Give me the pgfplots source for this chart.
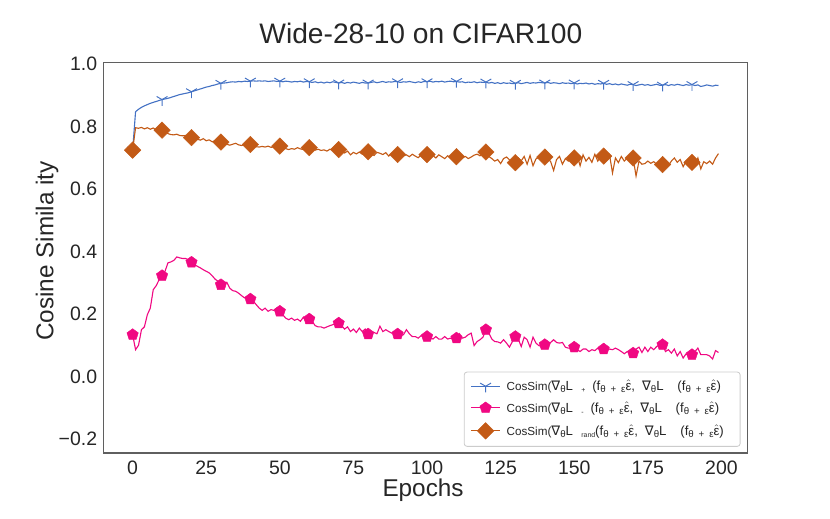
\documentclass[border=0pt]{standalone}
\usepackage{fontspec}
\setmainfont{Liberation Sans}
\newfontfamily\djv{DejaVu Sans}
\usepackage{pgfplots}
\pgfplotsset{compat=1.18}
\usepackage{pgfplotstable}

\definecolor{cblue}{RGB}{68,114,196}
\definecolor{cpink}{RGB}{240,8,130}
\definecolor{corange}{RGB}{195,90,22}
\definecolor{spine}{RGB}{95,95,95}
\definecolor{txt}{RGB}{38,38,38}
\definecolor{legedge}{RGB}{204,204,204}

\newcommand{\nb}{{\djv ∇}}
\newcommand{\mfs}{\fontsize{9.5}{11}\selectfont}
\newcommand{\sbs}[1]{\raisebox{-1.6pt}{\fontsize{7}{8}\selectfont #1}}
\newcommand{\tsb}[1]{\raisebox{-1.6pt}{\fontsize{5}{6}\selectfont #1}}
\newcommand{\eh}{\(\hat{\mbox{ε}}\)}
\newcommand{\fe}{(f\sbs{θ\hspace{3.5pt}+\hspace{3.5pt}ε}\eh}
\newcommand{\lgt}[2]{CosSim({\mfs\nb\sbs{θ}L\hspace{6pt}\tsb{#1}\fe,\hspace{5pt}\nb\sbs{θ}L\hspace{10pt}\fe)}\rule{#2}{0pt}}

\pgfplotstableread{
ep plus minus rand
0 0.725 0.134 0.725
1 0.848 0.086 0.797
2 0.856 0.100 0.795
3 0.862 0.150 0.798
4 0.867 0.159 0.793
5 0.871 0.198 0.797
6 0.875 0.219 0.792
7 0.878 0.278 0.796
8 0.881 0.291 0.790
9 0.884 0.310 0.795
10 0.887 0.323 0.789
11 0.889 0.337 0.784
12 0.891 0.364 0.778
13 0.894 0.367 0.775
14 0.897 0.372 0.774
15 0.900 0.383 0.776
16 0.903 0.380 0.772
17 0.905 0.378 0.771
18 0.907 0.378 0.772
19 0.909 0.374 0.768
20 0.912 0.366 0.765
21 0.915 0.358 0.766
22 0.918 0.353 0.760
23 0.921 0.348 0.757
24 0.924 0.342 0.762
25 0.927 0.337 0.755
26 0.929 0.332 0.758
27 0.932 0.323 0.752
28 0.934 0.312 0.755
29 0.937 0.305 0.750
30 0.939 0.294 0.751
31 0.940 0.299 0.748
32 0.941 0.302 0.744
33 0.943 0.283 0.741
34 0.944 0.275 0.744
35 0.943 0.273 0.747
36 0.945 0.267 0.742
37 0.944 0.259 0.740
38 0.946 0.252 0.743
39 0.945 0.254 0.739
40 0.946 0.248 0.743
41 0.947 0.241 0.739
42 0.946 0.230 0.736
43 0.947 0.219 0.735
44 0.946 0.212 0.737
45 0.947 0.219 0.735
46 0.945 0.209 0.738
47 0.946 0.214 0.734
48 0.947 0.212 0.736
49 0.945 0.219 0.735
50 0.946 0.209 0.738
51 0.944 0.198 0.733
52 0.946 0.187 0.730
53 0.945 0.182 0.727
54 0.943 0.187 0.730
55 0.945 0.180 0.728
56 0.944 0.184 0.733
57 0.946 0.177 0.729
58 0.943 0.190 0.727
59 0.945 0.173 0.731
60 0.944 0.184 0.733
61 0.942 0.177 0.729
62 0.944 0.163 0.725
63 0.941 0.159 0.728
64 0.943 0.159 0.724
65 0.940 0.155 0.726
66 0.943 0.159 0.722
67 0.941 0.163 0.728
68 0.944 0.166 0.725
69 0.942 0.169 0.722
70 0.940 0.171 0.727
71 0.942 0.163 0.722
72 0.939 0.152 0.716
73 0.942 0.159 0.722
74 0.940 0.144 0.710
75 0.943 0.152 0.718
76 0.941 0.141 0.713
77 0.939 0.155 0.719
78 0.942 0.144 0.712
79 0.940 0.152 0.717
80 0.940 0.136 0.720
81 0.942 0.144 0.712
82 0.944 0.141 0.708
83 0.941 0.137 0.718
84 0.943 0.161 0.715
85 0.945 0.144 0.711
86 0.942 0.150 0.717
87 0.944 0.144 0.706
88 0.943 0.139 0.715
89 0.945 0.144 0.712
90 0.944 0.136 0.711
91 0.942 0.131 0.713
92 0.944 0.134 0.707
93 0.943 0.150 0.710
94 0.945 0.137 0.704
95 0.943 0.128 0.712
96 0.941 0.128 0.706
97 0.944 0.123 0.701
98 0.942 0.131 0.709
99 0.945 0.123 0.705
100 0.944 0.128 0.711
101 0.946 0.126 0.703
102 0.943 0.120 0.708
103 0.945 0.128 0.700
104 0.944 0.120 0.710
105 0.946 0.120 0.704
106 0.943 0.128 0.698
107 0.945 0.120 0.707
108 0.946 0.123 0.701
109 0.944 0.120 0.706
110 0.945 0.123 0.704
111 0.943 0.137 0.708
112 0.944 0.123 0.700
113 0.941 0.126 0.705
114 0.943 0.134 0.698
115 0.942 0.139 0.703
116 0.944 0.099 0.709
117 0.941 0.112 0.712
118 0.943 0.118 0.707
119 0.942 0.126 0.714
120 0.943 0.150 0.719
121 0.940 0.139 0.705
122 0.942 0.120 0.698
123 0.939 0.112 0.690
124 0.941 0.111 0.695
125 0.938 0.107 0.682
126 0.941 0.118 0.698
127 0.939 0.107 0.703
128 0.940 0.094 0.694
129 0.938 0.112 0.690
130 0.939 0.128 0.685
131 0.941 0.120 0.700
132 0.938 0.096 0.691
133 0.940 0.126 0.705
134 0.942 0.118 0.680
135 0.939 0.094 0.708
136 0.941 0.126 0.675
137 0.940 0.107 0.697
138 0.942 0.099 0.702
139 0.941 0.096 0.690
140 0.940 0.102 0.703
141 0.942 0.105 0.700
142 0.939 0.109 0.688
143 0.941 0.118 0.660
144 0.940 0.109 0.695
145 0.938 0.107 0.705
146 0.941 0.109 0.680
147 0.939 0.094 0.698
148 0.940 0.091 0.690
149 0.938 0.091 0.703
150 0.940 0.094 0.700
151 0.937 0.086 0.708
152 0.939 0.080 0.675
153 0.938 0.088 0.710
154 0.940 0.088 0.690
155 0.937 0.080 0.702
156 0.939 0.086 0.686
157 0.936 0.083 0.712
158 0.938 0.091 0.690
159 0.937 0.083 0.705
160 0.939 0.088 0.706
161 0.936 0.083 0.693
162 0.938 0.088 0.710
163 0.935 0.086 0.652
164 0.937 0.091 0.700
165 0.934 0.086 0.685
166 0.937 0.080 0.705
167 0.935 0.073 0.690
168 0.933 0.080 0.700
169 0.936 0.077 0.692
170 0.935 0.075 0.700
171 0.932 0.088 0.642
172 0.934 0.094 0.690
173 0.936 0.077 0.680
174 0.933 0.094 0.682
175 0.935 0.080 0.690
176 0.932 0.094 0.683
177 0.934 0.086 0.688
178 0.936 0.096 0.680
179 0.933 0.102 0.685
180 0.933 0.102 0.679
181 0.935 0.080 0.684
182 0.932 0.086 0.676
183 0.935 0.075 0.690
184 0.933 0.088 0.700
185 0.936 0.066 0.686
186 0.934 0.080 0.695
187 0.932 0.059 0.672
188 0.935 0.073 0.690
189 0.933 0.064 0.680
190 0.935 0.070 0.686
191 0.932 0.080 0.678
192 0.934 0.091 0.700
193 0.929 0.070 0.665
194 0.931 0.070 0.688
195 0.934 0.070 0.682
196 0.932 0.066 0.690
197 0.930 0.056 0.680
198 0.933 0.083 0.700
199 0.932 0.077 0.714
}\data

\begin{document}
\begin{tikzpicture}
\begin{axis}[
  at={(74.4pt,47.5pt)}, anchor=south west,
  scale only axis, width=464pt, height=281pt,
  xmin=-9.95, xmax=208.95, ymin=-0.245, ymax=1.005,
  xtick={0,25,50,75,100,125,150,175,200},
  xticklabels={0,25,50,75,100,125,150,175,200},
  ytick={-0.2,0,0.2,0.4,0.6,0.8,1.0},
  yticklabels={−0.2,0.0,0.2,0.4,0.6,0.8,1.0},
  major tick length=0pt,
  tick label style={font=\fontsize{14}{16}\selectfont, text=txt},
  xticklabel style={anchor=base, yshift=-15.8pt},
  yticklabel style={anchor=east, inner sep=0pt, xshift=-4.3pt},
  axis line style={spine, line width=0.9pt},
  title={Wide-28-10 on CIFAR100},
  title style={font=\fontsize{20.3}{24}\selectfont, text=txt, at={(0.5,1)}, anchor=base, yshift=7.7pt, xshift=-3.4pt, inner sep=0pt},
  xlabel={Epochs},
  ylabel={Cosine Simila ity},
  xlabel style={font=\fontsize{17.5}{20}\selectfont, text=txt, at={(0.5,0)}, anchor=base, yshift=-31.5pt, xshift=-1.8pt, inner sep=0pt},
  ylabel style={font=\fontsize{17.5}{20}\selectfont, text=txt, at={(0,0.5)}, anchor=base, xshift=5pt, yshift=36pt, inner sep=0pt},
  legend style={at={(1,0)}, anchor=south east, xshift=-5.2pt, yshift=4.5pt,
    draw=legedge, line width=0.6pt, rounded corners=2pt, fill=white,
    font=\fontsize{8.4}{10}\selectfont, text=txt,
    inner xsep=4.8pt, inner ysep=5.2pt, row sep=5.6pt,
    nodes={inner sep=0pt, text height=8pt, text depth=2pt},
    /tikz/every odd column/.append style={column sep=4.6pt}},
  legend cell align=left,
  legend image code/.code={\draw[#1, mark repeat=2, mark phase=2] plot coordinates {(0pt,0pt) (10.2pt,0pt) (20.4pt,0pt)};},
  clip=false,
]
\addplot[cblue, line width=0.8pt, mark=Mercedes star flipped, mark size=4.5pt, mark repeat=10, mark options={line width=0.7pt}] table[x=ep, y=plus] {\data};
\addlegendentry{\lgt{+\hspace{5pt}}{9pt}}
\addplot[cpink, line width=0.8pt, mark=pentagon*, mark size=4.3pt, mark repeat=10, mark options={fill=cpink, draw=cpink, line width=0.3pt}] table[x=ep, y=minus] {\data};
\addlegendentry{\lgt{-\hspace{5pt}}{9pt}}
\addplot[corange, line width=0.8pt, mark=square*, mark size=4.2pt, mark repeat=10, mark options={rotate=45, fill=corange, draw=corange, line width=0.3pt}] table[x=ep, y=rand] {\data};
\addlegendentry{\lgt{rand}{6pt}}
\end{axis}
\pgfresetboundingbox
\path[use as bounding box] (0,0) rectangle (597.6pt,373.68pt);
\end{tikzpicture}
\end{document}
